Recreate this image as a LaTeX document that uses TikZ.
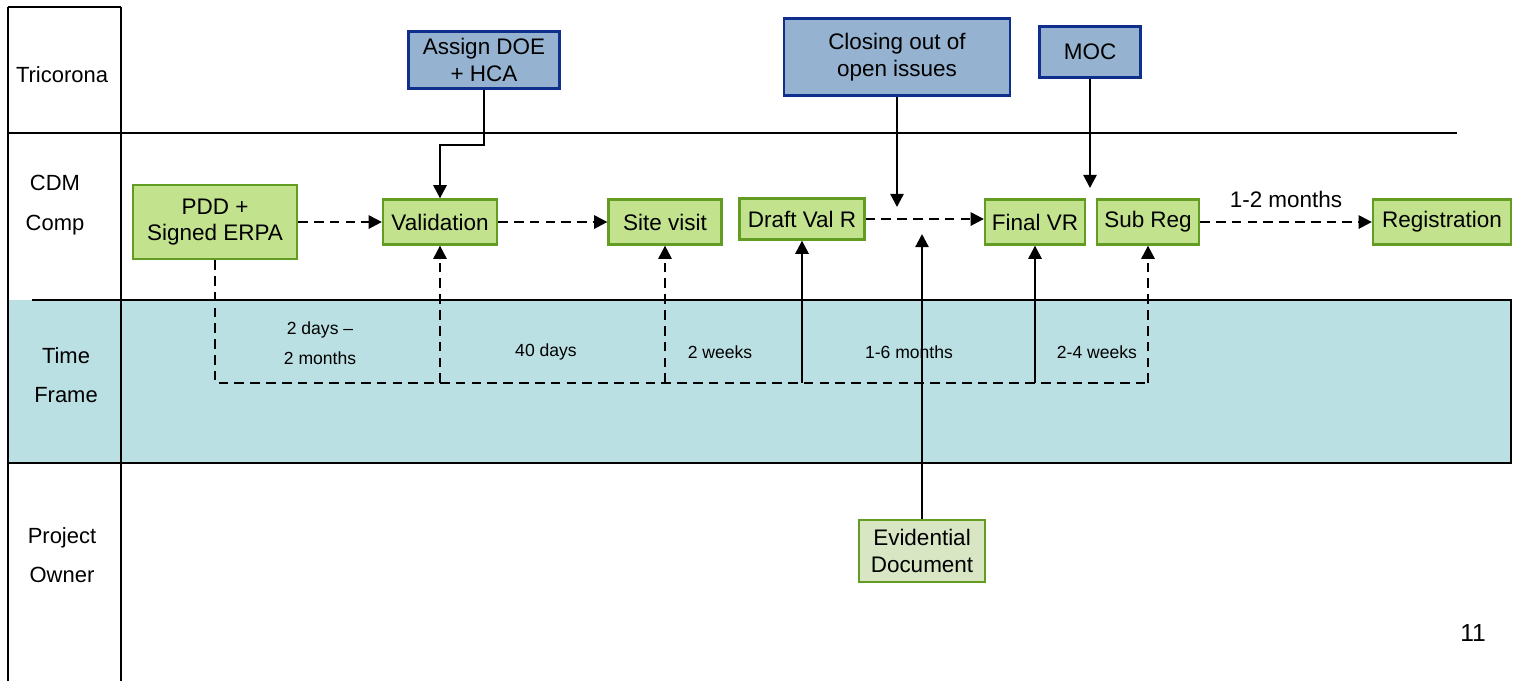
\documentclass[tikz,border=0pt]{standalone}
\usepackage{fontspec}
\setmainfont{Liberation Sans}
\usetikzlibrary{arrows.meta}
\definecolor{stepgreen}{RGB}{194,226,142}
\definecolor{stepedge}{RGB}{98,156,34}
\definecolor{docgreen}{RGB}{216,230,196}
\definecolor{tricblue}{RGB}{149,179,208}
\definecolor{tricedge}{RGB}{16,46,140}
\definecolor{bandteal}{RGB}{187,224,227}
\begin{document}
\begin{tikzpicture}[x=0.02cm, y=-0.02cm,
    font=\fontsize{12.8}{15}\selectfont,
    comp/.style={draw=stepedge, fill=stepgreen, line width=1.3pt, align=center, inner sep=0pt},
    tric/.style={draw=tricedge, fill=tricblue, line width=1.3pt, align=center, inner sep=0pt},
    lane/.style={align=center, font=\fontsize{12.5}{22.5}\selectfont},
    span/.style={align=center, font=\fontsize{10}{17}\selectfont},
    flow/.style={-{Triangle[length=7.5pt,width=7.5pt]}, line width=1.3pt},
    lag/.style={dash pattern=on 5.5pt off 3.5pt}]
    \useasboundingbox (0,0) rectangle (1514,681);

    \fill[bandteal] (8,300) rectangle (1511,463);
    \draw[line width=0.7pt] (1460,300) -- (1511,300) -- (1511,463) -- (8,463) -- (8,300);
    \draw[line width=1.4pt] (32,300) -- (1460,300);
    \draw[line width=0.9pt] (8,7) -- (121,7);
    \draw[line width=0.9pt] (8,7) -- (8,681);
    \draw[line width=0.9pt] (121,7) -- (121,681);
    \draw[line width=1.4pt] (8,133) -- (1457,133);

    \node[lane] (lanetric) at (62,75) {Tricorona};
    \node[lane] (lanecdm) at (55,205) {CDM\\Comp};
    \node[lane] (lanetime) at (66,375) {Time\\Frame};
    \node[lane] (laneowner) at (62,555) {Project\\Owner};

    \node[comp, minimum width=3.28cm, minimum height=1.48cm] (pdd) at (215,222) {PDD +\\Signed ERPA};
    \node[comp, minimum width=2.28cm, minimum height=0.9cm] (valid) at (440,222) {Validation};
    \node[comp, minimum width=2.26cm, minimum height=0.9cm] (site) at (665,222) {Site visit};
    \node[comp, minimum width=2.5cm, minimum height=0.82cm] (draft) at (802,219) {Draft Val R};
    \node[comp, minimum width=2.0cm, minimum height=0.9cm] (final) at (1035,222) {Final VR};
    \node[comp, minimum width=2.04cm, minimum height=0.9cm] (subreg) at (1148,222) {Sub Reg};
    \node[comp, minimum width=2.76cm, minimum height=0.9cm] (regis) at (1442,222) {Registration};
    \node[comp, fill=docgreen, minimum width=2.52cm, minimum height=1.24cm] (evid) at (922,551) {Evidential\\Document};

    \node[tric, minimum width=3.02cm, minimum height=1.14cm] (assign) at (484,60) {Assign DOE\\+ HCA};
    \node[tric, minimum width=4.52cm, minimum height=1.54cm] (closing) at (897,57) {Closing out of\\open issues};
    \node[tric, minimum width=2.02cm, minimum height=1.02cm] (moc) at (1090,52) {MOC};

    \draw[flow] (assign.south) -- ++(0,55) -| (valid.north);
    \coordinate (closeend) at (897,207);
    \draw[flow] (closing.south) -- (closeend);
    \coordinate (mocend) at (1090,188);
    \draw[flow] (moc.south) -- (mocend);
    \coordinate (evidend) at (922,234);
    \draw[flow] (evid.north) -- (evidend);

    \draw[flow,lag] (pdd.east) -- (valid.west);
    \draw[flow,lag] (valid.east) -- (site.west);
    \draw[flow,lag] (draft.east) -- (draft.east -| final.west);
    \draw[flow,lag] (subreg.east) -- node[above=4pt] (regtime) {1-2 months} (regis.west);

    \coordinate (tl) at (0,383);
    \draw[line width=1.3pt,lag] (pdd.south) -- (pdd.south |- tl) -- (subreg.south |- tl);
    \draw[flow,lag] (valid.south |- tl) -- (valid.south);
    \draw[flow,lag] (site.south |- tl) -- (site.south);
    \draw[flow] (draft.south |- tl) -- (draft.south);
    \draw[flow] (final.south |- tl) -- (final.south);
    \draw[flow,lag] (subreg.south |- tl) -- (subreg.south);

    \node[span] (span1) at (320,343) {2 days –\\2 months};
    \node[span] (span2) at (546,352) {40 days};
    \node[span] (span3) at (720,352) {2 weeks};
    \node[span] (span4) at (909,352) {1-6 months};
    \node[span] (span5) at (1097,352) {2-4 weeks};

    \node[font=\fontsize{14}{16}\selectfont] (pageno) at (1473,633) {11};
  \end{tikzpicture}
\end{document}
